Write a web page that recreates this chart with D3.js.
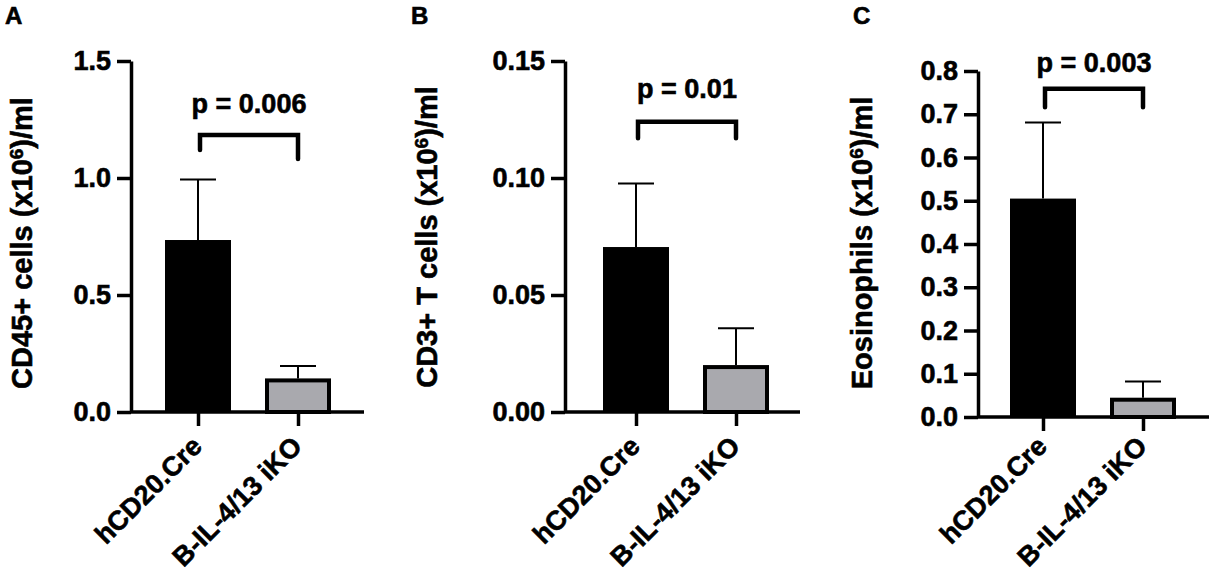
<!DOCTYPE html>
<html>
<head>
<meta charset="utf-8">
<script src="https://cdn.jsdelivr.net/npm/d3@7"></script>
<style>
body { margin: 0; background: #fff; }
text { font-family: "Liberation Sans", Arial, Helvetica, sans-serif; font-weight: bold; fill: #000; stroke: #000; stroke-width: 0.6px; }
</style>
</head>
<body>
<div id="wykres"></div>
<script>

/***** dane *****/

var grupy = ["hCD20.Cre", "B-IL-4/13 iKO"];

// A - CD45+ cells
var sredniaA = [0.735, 0.135];
var sdA = [0.259, 0.062];
var tickiA = [0, 0.5, 1.0, 1.5];

// B - CD3+ T cells
var sredniaB = [0.0705, 0.0192];
var sdB = [0.0271, 0.0166];
var tickiB = [0, 0.05, 0.10, 0.15];

// C - eozynofile
var sredniaC = [0.505, 0.040];
var sdC = [0.176, 0.042];
var tickiC = [0, 0.1, 0.2, 0.3, 0.4, 0.5, 0.6, 0.7, 0.8];

var pWartosci = ["p = 0.006", "p = 0.01", "p = 0.003"];


/***** obszar rysowania *****/

var width = 1209, height = 572;

var svg = d3.select("#wykres")
    .append("svg")
    .attr("width", width)
    .attr("height", height)
    .style("background", "#fff");

var kolorySlupkow = ["#000000", "#a9a9ae"];


// funkcja rysujaca jeden panel
var rysujPanel = function(o){

    var g = svg.append("g");

    var y = d3.scaleLinear()
        .domain([0, o.max])
        .range([o.y0, o.y1]);

    var x = d3.scalePoint()
        .domain(grupy)
        .range([o.x0 + o.pierwszy, o.x0 + o.pierwszy + 100]);

    // os y
    var osY = g.append("g")
        .attr("transform", "translate(" + o.x0 + ",0)")
        .call(d3.axisLeft(y).tickValues(o.ticki).tickFormat(d3.format(o.format))
            .tickSize(14).tickSizeOuter(0).tickPadding(6));

    osY.selectAll("text").style("font-size", "27px");

    // os x
    var osX = g.append("g")
        .attr("transform", "translate(0," + o.y0 + ")")
        .call(d3.axisBottom(x).tickSize(14).tickSizeOuter(0));

    osX.select(".domain").remove();

    // etykiety pod katem, zawsze na tej samej wysokosci strony
    osX.selectAll("text")
        .attr("x", 0).attr("y", 0).attr("dy", 0)
        .attr("text-anchor", "end")
        .attr("transform", "translate(5," + (448 - o.y0) + ") rotate(-45)")
        .style("font-size", "27px");

    g.append("line")
        .attr("x1", o.x0).attr("x2", o.xKoniec)
        .attr("y1", o.y0).attr("y2", o.y0)
        .attr("stroke", "#000").attr("stroke-width", 3.5);

    g.selectAll(".domain, .tick line")
        .attr("stroke", "#000")
        .attr("stroke-width", 3.5);

    // slupki
    g.selectAll(".slupek")
        .data(o.srednia)
        .enter()
        .append("rect")
        .attr("class", "slupek")
        .attr("x", function(d, i){ return x(grupy[i]) - 33 + (i ? 2 : 0); })
        .attr("width", function(d, i){ return i ? 62 : 66; })
        .attr("y", function(d){ return y(d); })
        .attr("height", function(d){ return o.y0 - y(d); })
        .attr("fill", function(d, i){ return kolorySlupkow[i]; })
        .attr("stroke", "#000")
        .attr("stroke-width", function(d, i){ return i ? 4 : 0; });

    // slupki bledow (tylko w gore)
    o.srednia.forEach(function(d, i){
        var cx = x(grupy[i]);
        var yg = y(d + o.sd[i]);
        g.append("line")
            .attr("x1", cx).attr("x2", cx)
            .attr("y1", y(d) - (i ? 2 : 0)).attr("y2", yg)
            .attr("stroke", "#000").attr("stroke-width", 2);
        g.append("line")
            .attr("x1", cx - 18).attr("x2", cx + 18)
            .attr("y1", yg).attr("y2", yg)
            .attr("stroke", "#000").attr("stroke-width", 2);
    });

    // klamra z p
    var xl = x(grupy[0]) + 2, xp = x(grupy[1]);
    g.append("path")
        .attr("d", "M" + xl + "," + y(o.klamra[1]) + "V" + y(o.klamra[0]) + "H" + xp + "V" + y(o.klamra[2]))
        .attr("fill", "none")
        .attr("stroke", "#000")
        .attr("stroke-width", 4.5)
        .attr("stroke-linecap", "round");

    g.append("text")
        .attr("x", (xl + xp) / 2)
        .attr("y", y(o.klamra[3]))
        .attr("text-anchor", "middle")
        .style("font-size", "27px")
        .text(o.p);

    // tytul osi y
    var tytul = g.append("text")
        .attr("transform", "translate(" + o.tytulX + "," + o.tytulY + ") rotate(-90)")
        .attr("text-anchor", "middle")
        .style("font-size", "29px");

    tytul.append("tspan").text(o.tytul + " (x10");
    tytul.append("tspan").attr("dy", "-0.45em").style("font-size", "19px").text("6");
    tytul.append("tspan").attr("dy", "0.3em").text(")/ml");

    // litera panelu
    g.append("text")
        .attr("x", o.literaX)
        .attr("y", 24)
        .style("font-size", "24px")
        .text(o.litera);
};


rysujPanel({
    srednia: sredniaA, sd: sdA, ticki: tickiA, max: 1.5, format: ".1f",
    x0: 131, xKoniec: 364, pierwszy: 67, y0: 412, y1: 61,
    klamra: [1.184, 1.12, 1.081, 1.278], p: pWartosci[0],
    tytul: "CD45+ cells", tytulX: 32, tytulY: 243,
    litera: "A", literaX: 5
});

rysujPanel({
    srednia: sredniaB, sd: sdB, ticki: tickiB, max: 0.15, format: ".2f",
    x0: 565, xKoniec: 800, pierwszy: 71, y0: 412, y1: 61,
    klamra: [0.124, 0.117, 0.117, 0.134], p: pWartosci[1],
    tytul: "CD3+ T cells", tytulX: 437, tytulY: 237,
    litera: "B", literaX: 411
});

rysujPanel({
    srednia: sredniaC, sd: sdC, ticki: tickiC, max: 0.8, format: ".1f",
    x0: 978, xKoniec: 1209, pierwszy: 65, y0: 417, y1: 71,
    klamra: [0.759, 0.716, 0.716, 0.798], p: pWartosci[2],
    tytul: "Eosinophils", tytulX: 872, tytulY: 243,
    litera: "C", literaX: 853
});

</script>
</body>
</html>
